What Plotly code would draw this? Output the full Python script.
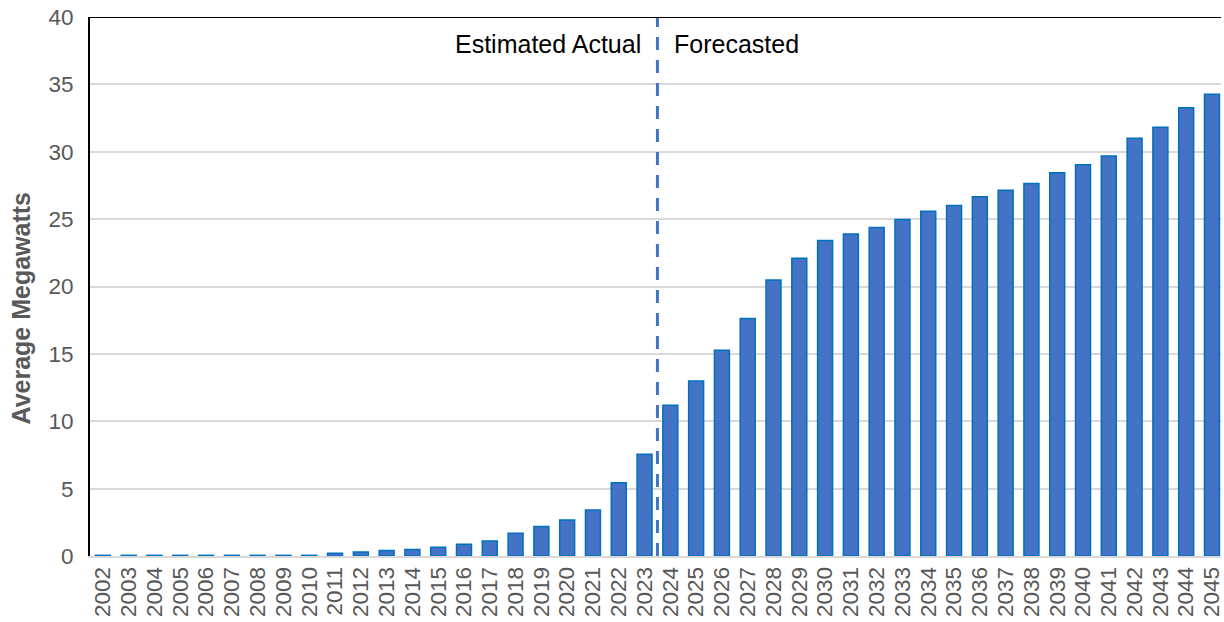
import plotly.graph_objects as go

# Annual average megawatts, estimated actuals through 2023 and forecast thereafter
years = [str(y) for y in range(2002, 2046)]
avg_mw = [
    0.05, 0.05, 0.05, 0.05, 0.05, 0.05, 0.05, 0.05, 0.05,   # 2002-2010
    0.20, 0.30, 0.40, 0.48, 0.65, 0.87, 1.11, 1.68, 2.18,   # 2011-2019
    2.67, 3.41, 5.44, 7.55,                                  # 2020-2023
    11.18, 12.99, 15.27, 17.62, 20.49, 22.10, 23.42, 23.90,  # 2024-2031
    24.38, 24.98, 25.59, 26.02, 26.66, 27.15, 27.65, 28.44,  # 2032-2039
    29.03, 29.68, 31.00, 31.81, 33.27, 34.26,                # 2040-2045
]
y_ticks = [0, 5, 10, 15, 20, 25, 30, 35, 40]
split_label_left = "Estimated Actual"
split_label_right = "Forecasted"
y_title = "Average Megawatts"

FONT = "Liberation Sans, Arial, sans-serif"
GRAY = "#595959"

fig = go.Figure()
fig.add_trace(go.Bar(
    x=list(range(len(years))),
    y=avg_mw,
    marker=dict(color="#4472C4", line=dict(color="#0070C0", width=1.5)),
    width=0.58,
    hoverinfo="skip",
))

# boundary between estimated actuals and forecast (between 2023 and 2024)
split_x = years.index("2024") - 0.5
fig.add_shape(type="line", xref="x", yref="y", x0=split_x, x1=split_x, y0=0, y1=40,
              line=dict(color="#4472C4", width=3, dash="13px,10px"))
# top border of the plot area
fig.add_shape(type="line", xref="paper", yref="y", x0=0, x1=1, y0=40, y1=40,
              line=dict(color="black", width=2))

fig.add_annotation(x=split_x, y=38, xref="x", yref="y", text=split_label_left,
                   showarrow=False, xanchor="right", yanchor="middle", xshift=-14,
                   font=dict(family=FONT, size=25, color="black"))
fig.add_annotation(x=split_x, y=38, xref="x", yref="y", text=split_label_right,
                   showarrow=False, xanchor="left", yanchor="middle", xshift=15,
                   font=dict(family=FONT, size=25, color="black"))
fig.add_annotation(x=0, y=0.5, xref="paper", yref="paper", text="<b>%s</b>" % y_title,
                   showarrow=False, textangle=-90, xanchor="center", yanchor="middle",
                   xshift=-70, yshift=-22, font=dict(family=FONT, size=25, color=GRAY))

fig.update_layout(
    width=1224, height=622,
    margin=dict(l=90, r=0, t=17, b=66),
    paper_bgcolor="white", plot_bgcolor="white",
    showlegend=False,
    font=dict(family=FONT, color=GRAY),
)
fig.update_xaxes(
    tickmode="array", tickvals=list(range(len(years))), ticktext=years,
    tickangle=-90, tickfont=dict(family=FONT, size=22.5, color=GRAY),
    range=[-0.5, len(years) - 0.65],
    ticklabeloverflow="allow",
    showgrid=False, zeroline=False,
    showline=True, linecolor="#d9d9d9", linewidth=2,
    ticks="", fixedrange=True,
)
fig.update_yaxes(
    range=[0, 40], tickmode="array", tickvals=y_ticks,
    tickfont=dict(family=FONT, size=22.5, color=GRAY),
    showgrid=True, gridcolor="#d9d9d9", gridwidth=1.5,
    zeroline=False,
    showline=True, linecolor="black", linewidth=2,
    ticks="", ticklabelstandoff=10, fixedrange=True,
)

fig.write_html("out.html", config={"displayModeBar": False})
